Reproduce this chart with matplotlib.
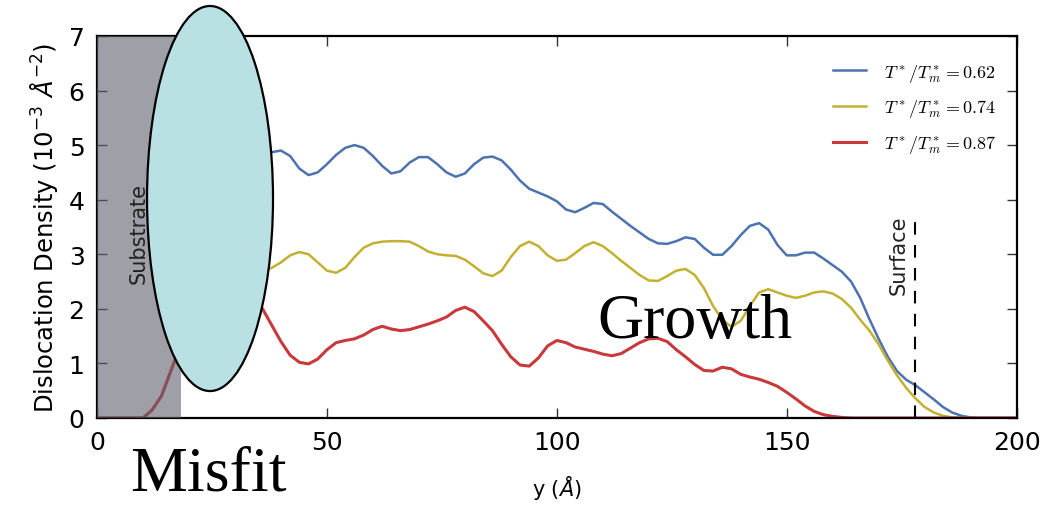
import matplotlib
matplotlib.use("Agg")
import matplotlib.pyplot as plt
from matplotlib.patches import Ellipse
from matplotlib.font_manager import FontProperties

# position along growth direction (Angstrom)
y_pos = list(range(0, 202, 2))

# dislocation density (1e-3 A^-2) for three temperatures
rho_062 = [0, 0, 0, 0, 0, 0, 0.15, 0.4, 0.85, 1.3,
           2.0, 2.9, 3.7, 4.3, 4.7, 4.85, 4.8, 4.7, 4.75, 4.87,
           4.9, 4.8, 4.57, 4.45, 4.5, 4.65, 4.82, 4.95, 5.0, 4.95,
           4.8, 4.62, 4.48, 4.52, 4.68, 4.78, 4.78, 4.65, 4.5, 4.42,
           4.48, 4.65, 4.77, 4.79, 4.72, 4.55, 4.35, 4.2, 4.13, 4.06,
           3.97, 3.82, 3.77, 3.85, 3.94, 3.92, 3.78, 3.65, 3.52, 3.4,
           3.28, 3.2, 3.19, 3.24, 3.31, 3.28, 3.12, 2.99, 2.99, 3.15,
           3.35, 3.52, 3.57, 3.45, 3.17, 2.98, 2.98, 3.03, 3.03, 2.92,
           2.8, 2.68, 2.5, 2.2, 1.81, 1.45, 1.12, 0.86, 0.7, 0.6,
           0.47, 0.34, 0.2, 0.1, 0.04, 0.01, 0, 0, 0, 0, 0]
rho_074 = [0, 0, 0, 0, 0, 0, 0.15, 0.4, 0.85, 1.3,
           1.8, 2.2, 2.5, 2.65, 2.7, 2.7, 2.65, 2.65, 2.7, 2.75,
           2.85, 2.98, 3.04, 3.0, 2.85, 2.7, 2.66, 2.75, 2.95, 3.12,
           3.2, 3.23, 3.24, 3.24, 3.23, 3.15, 3.05, 3.0, 2.98, 2.97,
           2.9, 2.78, 2.65, 2.6, 2.7, 2.95, 3.15, 3.23, 3.15, 2.98,
           2.88, 2.9, 3.02, 3.15, 3.22, 3.15, 3.02, 2.88, 2.75, 2.62,
           2.52, 2.51, 2.6, 2.7, 2.73, 2.62, 2.38, 2.05, 1.8, 1.67,
           1.78, 2.05, 2.3, 2.36, 2.3, 2.24, 2.2, 2.24, 2.3, 2.32,
           2.28, 2.18, 2.02, 1.8, 1.6, 1.35, 1.05, 0.78, 0.55, 0.36,
           0.2, 0.1, 0.04, 0.01, 0, 0, 0, 0, 0, 0, 0]
rho_087 = [0, 0, 0, 0, 0, 0, 0.15, 0.4, 0.85, 1.3,
           1.75, 2.1, 2.35, 2.5, 2.55, 2.5, 2.4, 2.2, 2.0, 1.7,
           1.4, 1.15, 1.02, 0.99, 1.08, 1.25, 1.38, 1.42, 1.45, 1.52,
           1.62, 1.68, 1.63, 1.6, 1.62, 1.67, 1.72, 1.78, 1.85, 1.97,
           2.03, 1.95, 1.78, 1.6, 1.35, 1.12, 0.97, 0.95, 1.1, 1.32,
           1.42, 1.38, 1.3, 1.26, 1.22, 1.17, 1.14, 1.18, 1.28, 1.38,
           1.45, 1.46, 1.4, 1.25, 1.12, 0.98, 0.87, 0.86, 0.93, 0.9,
           0.8, 0.75, 0.71, 0.65, 0.58, 0.47, 0.35, 0.22, 0.12, 0.06,
           0.03, 0.01, 0, 0, 0, 0, 0, 0, 0, 0,
           0, 0, 0, 0, 0, 0, 0, 0, 0, 0, 0]

labels = [r"$T^*/T^*_m = 0.62$", r"$T^*/T^*_m = 0.74$", r"$T^*/T^*_m = 0.87$"]
colors = ["#4c72b0", "#c4b030", "#c8393b"]
widths = [1.8, 1.8, 2.2]

substrate_end = 18.3
surface_pos = 178

fig = plt.figure(figsize=(10.48, 5.06), dpi=100)
ax = fig.add_axes([0.0926, 0.172, 0.8774, 0.755])

for rho, lab, c, w in zip([rho_062, rho_074, rho_087], labels, colors, widths):
    ax.plot(y_pos, rho, color=c, lw=w, label=lab, solid_joinstyle="round")

ax.axvspan(0, substrate_end, color="#5f5f6c", alpha=0.6, lw=0, zorder=3)
ax.text(9, 3.4, "Substrate", rotation=90, ha="center", va="center",
        fontsize=15, color="#222222", zorder=4)
ax.plot([surface_pos, surface_pos], [0, 3.75], color="black", ls="--", lw=1.5, dashes=(6, 5))
ax.text(surface_pos - 3.6, 3.0, "Surface", rotation=90, ha="center", va="center",
        fontsize=15, color="#222222")

ax.set_xlim(0, 200)
ax.set_ylim(0, 7)
ax.set_xticks([0, 50, 100, 150, 200])
ax.set_yticks(range(8))
ax.tick_params(direction="in", length=7, width=1, top=True, right=True,
               labelsize=18, pad=9, color="#333333")
for s in ax.spines.values():
    s.set_linewidth(1.6)
ax.set_xlabel(r"y ($\AA$)", fontsize=15, labelpad=13)
ax.set_ylabel(r"Dislocation Density ($10^{-3}\ \AA^{-2}$)", fontsize=17.5, labelpad=6)

leg_font = FontProperties(size=13, math_fontfamily="cm")
ax.legend(loc="upper right", frameon=False, prop=leg_font,
          bbox_to_anchor=(0.995, 0.975), handlelength=1.8, handletextpad=1.0,
          labelspacing=0.75)

# overlay annotations
ell = Ellipse((0.2004, 0.6057), 0.1202, 0.761, transform=fig.transFigure,
              facecolor="#b9e0e3", edgecolor="black", lw=1.6)
fig.patches.append(ell)
fig.text(0.124, 0.03, "Misfit", fontsize=46, family="Liberation Serif")
fig.text(0.5697, 0.332, "Growth", fontsize=46, family="Liberation Serif")

fig.savefig("out.png", dpi=100)
